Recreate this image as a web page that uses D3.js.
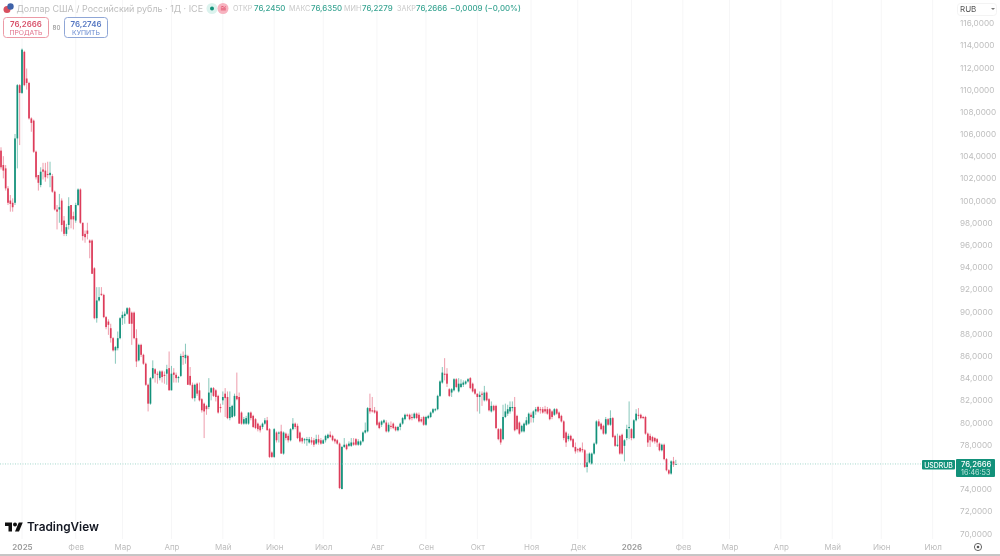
<!DOCTYPE html>
<html>
<head>
<meta charset="utf-8">
<script src="https://cdn.jsdelivr.net/npm/d3@7"></script>
<style>
  body { margin: 0; background: #fff; }
  svg { filter: blur(0.3px); }
  text { font-family: Inter, "Noto Sans", sans-serif; }
</style>
</head>
<body>
<svg id="chart" width="1000" height="556"></svg>
<script>
// daily USD/RUB candles, ten per row
var opens = [
  104.5,103.2,102.9,101.1,100.0,99.8,99.8,105.6,110.4,109.7,
  113.4,111.0,110.6,107.4,107.2,104.4,102.3,101.4,102.8,102.7,
  102.4,102.3,102.2,100.8,99.2,99.2,100.0,98.2,97.0,97.8,
  99.6,98.6,98.2,99.6,101.0,98.0,97.0,97.3,96.4,96.4,
  93.9,89.4,91.0,91.6,91.5,89.5,89.1,88.5,87.6,86.5,
  86.7,87.6,89.4,89.6,89.8,90.3,89.9,89.9,87.6,85.6,
  87.0,86.1,85.3,83.4,81.7,84.0,84.8,84.4,84.0,84.6,
  84.3,84.4,84.9,82.9,84.5,84.3,84.0,84.2,86.0,85.8,
  86.0,84.2,83.4,82.2,83.5,82.9,82.1,81.7,81.5,81.4,
  82.7,83.1,82.9,82.4,81.4,82.0,82.6,82.3,80.4,80.5,
  80.6,82.4,82.3,80.9,79.9,79.9,79.9,80.9,80.6,80.3,
  79.9,79.7,79.6,79.9,80.2,79.4,77.3,76.9,79.1,79.0,
  79.2,77.2,79.0,78.8,78.4,79.4,79.9,79.7,79.1,78.6,
  78.4,78.4,78.2,78.4,78.4,78.1,78.5,78.4,78.1,78.4,
  78.6,78.9,78.8,78.5,78.4,78.1,74.0,77.8,78.0,77.9,
  77.9,78.2,78.5,78.0,78.0,78.3,79.1,79.2,81.3,81.1,
  81.1,81.0,80.0,79.8,80.0,80.0,79.2,79.7,79.9,79.6,
  79.3,79.6,79.9,80.3,80.7,80.7,80.5,80.4,80.8,80.7,
  80.3,80.5,79.8,80.4,80.5,80.9,81.1,81.2,82.4,83.6,
  84.4,84.4,83.0,82.7,82.9,83.9,82.8,83.2,83.4,83.5,
  83.7,84.0,83.5,83.0,82.6,82.3,82.6,82.0,82.7,82.1,
  81.0,81.5,81.5,79.4,79.4,78.5,80.5,80.8,81.0,81.3,
  81.4,80.6,80.0,79.2,79.2,79.8,79.9,80.7,80.4,81.0,
  81.4,81.2,81.2,81.2,81.2,81.2,81.0,80.7,81.2,80.9,
  80.6,80.1,79.1,78.5,78.8,78.5,77.8,77.6,77.7,77.6,
  77.5,76.0,76.4,76.3,77.2,78.1,80.1,79.9,79.7,79.0,
  80.3,79.8,80.4,78.8,77.9,78.8,78.9,77.9,78.6,79.5,
  79.4,78.6,80.2,80.7,80.7,80.5,80.5,79.0,78.8,78.7,
  78.6,78.5,78.1,77.5,78.0,76.7,75.7,75.4,76.5,76.245
];
var highs = [
  104.8,104.0,103.2,101.3,100.5,100.2,106.0,110.5,110.5,113.7,
  113.5,111.9,110.7,107.5,107.3,104.5,102.3,103.0,103.4,103.4,
  103.5,103.5,102.4,100.9,99.6,100.6,100.2,98.6,97.9,100.3,
  99.6,99.0,99.8,101.1,101.1,98.0,97.3,98.0,96.5,96.5,
  94.0,92.2,92.2,92.2,91.6,89.6,89.3,88.9,87.7,86.9,
  88.2,89.5,90.0,90.0,90.4,90.4,90.0,90.0,88.4,87.1,
  87.1,86.2,85.4,83.5,84.1,85.6,84.9,84.6,84.7,84.7,
  84.6,85.2,86.4,85.1,84.9,84.5,84.2,86.2,86.4,87.1,
  86.1,85.0,83.6,83.5,83.6,83.6,82.2,81.8,81.6,84.0,
  83.2,83.2,83.0,82.5,81.7,82.8,83.1,82.8,82.8,81.6,
  82.6,84.5,82.7,81.0,80.5,80.6,80.9,81.0,80.7,80.4,
  80.0,79.8,80.0,80.4,80.5,79.5,77.4,79.5,79.2,79.2,
  79.8,79.2,79.1,79.0,79.5,80.4,80.0,79.9,79.2,78.7,
  78.6,78.7,78.7,78.7,78.6,78.9,78.9,78.6,78.5,78.9,
  79.0,79.2,78.9,78.6,78.5,78.2,77.9,78.6,78.1,78.3,
  78.6,78.6,78.6,78.5,78.4,79.2,80.0,81.4,82.6,82.3,
  81.4,81.1,80.1,80.2,80.3,80.2,80.0,80.1,80.0,79.7,
  79.7,80.0,80.5,80.8,80.8,80.8,80.8,80.9,80.9,80.9,
  80.5,80.6,80.6,80.7,81.0,81.3,81.3,82.5,83.8,85.0,
  85.8,84.9,83.1,83.1,84.0,84.0,84.0,83.9,83.8,83.8,
  84.0,84.1,83.6,83.1,82.6,82.8,82.8,83.3,82.8,82.2,
  81.9,81.6,81.6,79.5,79.5,81.6,81.7,81.6,81.9,81.9,
  82.3,80.7,80.1,79.8,80.0,80.5,80.9,80.9,81.1,81.4,
  81.5,81.4,81.4,81.5,81.4,81.3,81.1,81.3,81.3,81.0,
  80.7,80.2,79.2,79.0,78.9,78.6,78.2,77.7,77.8,78.2,
  77.6,77.2,77.3,77.3,78.2,80.2,80.3,80.0,79.8,80.5,
  80.4,81.1,80.5,78.9,79.0,78.9,79.0,78.5,79.8,81.9,
  79.5,80.3,81.2,81.3,80.8,80.6,80.6,79.1,79.0,78.8,
  78.7,78.6,78.2,78.1,78.1,76.8,75.8,76.6,76.9,76.635
];
var lows = [
  102.8,102.0,100.9,99.6,99.0,99.0,99.6,102.9,105.0,109.6,
  110.3,110.0,107.3,106.2,104.3,101.9,100.9,101.2,101.9,101.7,
  102.0,101.2,100.7,99.1,97.4,98.0,97.2,96.8,96.8,97.4,
  97.5,97.4,98.0,99.5,97.9,96.4,96.2,96.5,94.8,93.4,
  89.3,89.0,90.9,91.4,89.4,88.4,87.9,87.2,86.4,85.3,
  86.5,87.5,88.8,88.9,89.7,88.9,87.0,87.5,85.0,85.5,
  85.9,85.2,83.3,81.0,81.6,83.9,83.6,83.5,83.8,83.6,
  83.5,83.4,82.9,82.9,83.6,83.6,83.6,84.1,85.2,85.3,
  83.4,83.3,82.1,81.9,82.4,81.9,80.9,78.6,80.7,81.2,
  82.0,82.3,81.9,80.8,80.9,81.6,80.5,80.3,80.2,80.4,
  80.5,82.0,79.9,79.8,79.8,79.8,79.8,80.2,79.5,79.4,
  79.2,79.1,79.4,79.8,79.3,76.8,76.8,76.8,78.2,78.2,
  77.2,77.1,78.4,78.2,78.3,79.3,79.4,78.5,78.2,78.1,
  78.1,77.9,78.1,78.0,77.8,78.0,78.0,78.0,78.1,78.2,
  78.5,78.6,78.3,78.1,78.0,74.0,74.0,77.7,77.5,77.8,
  77.8,77.9,77.9,77.9,77.9,78.2,79.0,79.1,80.8,80.9,
  80.8,79.7,79.4,79.6,79.9,79.1,79.1,79.4,79.4,79.2,
  79.2,79.3,79.8,80.2,80.5,80.2,80.2,80.3,80.3,80.0,
  80.0,79.7,79.7,80.3,80.4,80.8,81.0,81.1,82.3,83.5,
  83.8,83.2,82.3,82.3,82.8,83.1,82.7,83.1,83.2,83.4,
  83.6,83.0,82.7,82.5,81.0,80.8,81.5,81.9,81.9,81.0,
  80.9,81.0,79.4,78.4,78.0,78.4,80.4,80.6,80.8,81.0,
  79.2,79.3,78.9,79.1,79.1,79.7,79.8,80.0,80.0,80.7,
  80.9,80.8,80.8,80.8,80.7,80.2,80.3,80.6,80.7,80.3,
  80.0,78.4,77.8,78.3,78.3,77.7,77.2,77.3,77.3,77.3,
  75.9,75.5,76.3,76.2,77.1,78.0,79.6,79.3,78.9,78.9,
  79.7,79.7,78.6,77.8,77.8,77.1,77.1,76.5,78.4,78.5,
  78.4,78.5,80.1,80.3,80.3,80.3,78.9,77.8,77.8,78.2,
  78.1,77.8,77.4,77.4,76.6,75.6,75.3,75.3,76.0,76.2279
];
var closes = [
  103.0,102.7,101.1,99.8,99.7,99.4,105.6,110.4,109.7,113.6,
  110.4,110.6,107.4,107.0,104.4,102.1,101.6,102.6,102.6,102.1,
  102.3,102.5,100.8,99.2,99.0,99.4,97.8,97.0,97.6,99.5,
  98.3,98.3,99.6,101.0,98.0,96.8,96.7,97.0,96.2,93.4,
  89.4,91.0,91.3,91.5,89.5,88.6,88.8,87.6,86.5,86.8,
  87.6,89.4,89.7,89.8,90.3,88.9,88.9,87.6,85.5,87.0,
  86.1,85.3,83.4,81.7,84.0,84.9,84.4,84.3,84.6,84.1,
  84.2,84.8,82.9,84.4,84.3,84.0,84.1,86.0,85.9,86.1,
  83.4,83.4,82.2,83.4,82.6,82.0,81.1,81.0,81.2,82.7,
  83.1,82.4,82.3,80.9,81.3,82.3,82.2,80.4,81.4,81.5,
  82.4,82.1,79.9,79.9,80.3,80.4,80.9,80.4,79.6,79.5,
  79.4,79.3,79.9,80.2,79.3,76.9,76.9,79.4,78.4,79.1,
  77.2,79.1,78.6,78.4,79.4,79.9,79.6,78.6,78.3,78.3,
  78.5,78.5,78.5,78.2,78.0,78.5,78.2,78.1,78.4,78.8,
  78.9,78.7,78.4,78.3,78.1,74.1,77.8,78.0,77.6,78.1,
  78.2,78.0,78.0,78.3,78.3,79.1,79.3,81.3,81.0,81.0,
  80.9,79.8,79.5,80.1,80.2,79.2,79.8,79.6,79.5,79.3,
  79.6,79.9,80.4,80.7,80.6,80.3,80.4,80.8,80.4,80.1,
  80.1,79.8,80.5,80.6,80.9,81.2,81.2,82.4,83.7,84.5,
  84.3,83.5,82.4,83.0,83.9,83.2,83.5,83.5,83.6,83.7,
  83.9,83.1,82.8,82.6,82.3,82.5,82.5,82.7,82.0,81.1,
  81.5,81.1,79.5,78.5,78.2,80.5,81.0,81.2,81.4,81.4,
  79.3,79.4,79.0,79.7,79.9,80.2,80.8,80.5,81.0,81.2,
  81.0,81.1,80.9,81.0,80.8,80.3,80.5,81.2,80.8,80.4,
  80.1,78.6,78.2,78.8,78.4,77.8,77.4,77.5,77.4,77.5,
  76.0,76.4,77.2,77.2,78.1,80.1,79.7,79.4,79.0,80.3,
  79.8,80.4,78.7,77.9,78.0,77.2,77.2,78.4,79.4,79.6,
  78.6,80.2,80.8,80.6,80.4,80.4,79.0,78.2,78.4,78.3,
  78.3,78.2,77.5,78.0,76.7,75.7,75.4,76.5,76.2,76.2666
];

// month labels and the bar index they sit on
var monthLabels = ["2025","Фев","Мар","Апр","Май","Июн","Июл","Авг","Сен","Окт","Ноя","Дек","2026","Фев","Мар","Апр","Май","Июн","Июл"];
var monthBars = [9,32,52,73,95,117,138,161,182,204,227,247,270,292,312,334,356,377,399];
var priceTicks = [116,114,112,110,108,106,104,102,100,98,96,94,92,90,88,86,84,82,80,78,74,72,70];
var lastPrice = 76.2666;

var UP = "#12917a", DOWN = "#dd3c5a", GREY = "#bdbdbd";
var fmt = d => d.toFixed(4).replace(".", ",");

var svg = d3.select("#chart");
var x = d3.scaleLinear().domain([0, 400]).range([1, 935]);
var y = d3.scaleLinear().domain([70, 116]).range([533.5, 23]);

// vertical grid
svg.append("g").selectAll("line")
  .data(monthBars)
  .enter().append("line")
  .attr("x1", d => x(d)).attr("x2", d => x(d))
  .attr("y1", 0).attr("y2", 539)
  .attr("stroke", "#f6f6f7");

// candles
var bars = svg.append("g");
closes.forEach(function (c, i) {
  var col = c >= opens[i] ? UP : DOWN;
  bars.append("line")
    .attr("x1", x(i)).attr("x2", x(i))
    .attr("y1", y(highs[i])).attr("y2", y(lows[i]))
    .attr("stroke", col).attr("stroke-opacity", 0.5).attr("stroke-width", 1);
  bars.append("rect")
    .attr("x", x(i) - 0.85).attr("width", 1.7)
    .attr("y", y(Math.max(opens[i], c)))
    .attr("height", Math.max(1, Math.abs(y(opens[i]) - y(c))))
    .attr("fill", col);
});

// last price line
svg.append("line")
  .attr("x1", 0).attr("x2", 922)
  .attr("y1", y(lastPrice)).attr("y2", y(lastPrice))
  .attr("stroke", "#a5d8cd").attr("stroke-dasharray", "1 1.5");

// price axis
var yAxis = svg.append("g")
  .attr("transform", "translate(960,0)")
  .call(d3.axisRight(y).tickValues(priceTicks).tickFormat(fmt).tickSize(0));
yAxis.select(".domain").remove();
yAxis.selectAll("text")
  .attr("x", 0).attr("fill", GREY)
  .style("font-size", "8.2px").style("font-family", "Inter");

// time axis
var xAxis = svg.append("g")
  .attr("transform", "translate(0,544)")
  .call(d3.axisBottom(x).tickValues(monthBars).tickFormat((d, i) => monthLabels[i]).tickSize(0));
xAxis.select(".domain").remove();
xAxis.selectAll("text")
  .attr("y", 0).attr("dy", "0.71em")
  .attr("fill", (d, i) => /^20/.test(monthLabels[i]) ? "#9a9a9a" : GREY)
  .style("font-size", "8px").style("font-family", "Inter")
  .style("font-weight", (d, i) => /^20/.test(monthLabels[i]) ? 600 : 400);

svg.append("line").attr("x1", 0).attr("x2", 1000).attr("y1", 555).attr("y2", 555).attr("stroke", "#8c8c8c");

function label(txt, px, py, size, fill, weight, anchor) {
  return svg.append("text").text(txt).attr("x", px).attr("y", py)
    .attr("font-size", size).attr("fill", fill)
    .attr("font-weight", weight || 400).attr("text-anchor", anchor || "start");
}

// header
svg.append("circle").attr("cx", 7).attr("cy", 9.5).attr("r", 3.5).attr("fill", "#d8505f");
svg.append("circle").attr("cx", 10.5).attr("cy", 6.5).attr("r", 3.2).attr("fill", "#3f62a8");
label("Доллар США / Российский рубль · 1Д · ICE", 16.5, 11.5, 8.95, GREY);
svg.append("circle").attr("cx", 212).attr("cy", 8.5).attr("r", 5.5).attr("fill", "#dcf3ee");
svg.append("circle").attr("cx", 212).attr("cy", 8.5).attr("r", 2).attr("fill", UP);
svg.append("circle").attr("cx", 223).attr("cy", 8.5).attr("r", 5.5).attr("fill", "#f7b3c0");
label("≅", 223, 11, 8, DOWN, 400, "middle");

var ohlcNames = ["ОТКР", "МАКС", "МИН", "ЗАКР"];
var ohlcValues = ["76,2450", "76,6350", "76,2279", "76,2666"];
var ohlcNameX = [233, 289, 344, 397];
var ohlcValueX = [254, 311, 362, 416];
ohlcNames.forEach(function (n, i) {
  label(n, ohlcNameX[i], 11, 7.2, "#c8c8c8");
  label(ohlcValues[i], ohlcValueX[i], 11, 7.9, "#3aa593", 500);
});
label("−0,0009 (−0,00%)", 450, 11, 7.9, "#3aa593", 500);

// sell and buy buttons
svg.append("rect").attr("x", 3.5).attr("y", 17.5).attr("width", 45).attr("height", 20).attr("rx", 3)
  .attr("fill", "#fff").attr("stroke", "#ec9aa6");
label("76,2666", 26, 26.5, 7.9, "#d8516a", 600, "middle");
label("ПРОДАТЬ", 26, 34.5, 6.8, "#e0708a", 400, "middle");
label("80", 56.5, 30, 6.3, "#888", 400, "middle");
svg.append("rect").attr("x", 64.5).attr("y", 17.5).attr("width", 43).attr("height", 20).attr("rx", 3)
  .attr("fill", "#fff").attr("stroke", "#8fa6d6");
label("76,2746", 86, 26.5, 7.9, "#5577c2", 600, "middle");
label("КУПИТЬ", 86, 34.5, 6.8, "#6a8bd0", 400, "middle");

// currency selector
svg.append("rect").attr("x", 957.5).attr("y", 3.5).attr("width", 39).attr("height", 12).attr("rx", 3)
  .attr("fill", "#fff").attr("stroke", "#f3f3f3");
label("RUB", 960, 12, 8, "#555");
svg.append("path").attr("d", "M991 8 l4 0 l-2 2 z").attr("fill", "#777");

// last price labels
svg.append("rect").attr("x", 922).attr("y", 460).attr("width", 33).attr("height", 9.5).attr("rx", 1).attr("fill", UP);
label("USDRUB", 938.5, 467.7, 6.9, "#fff", 500, "middle");
svg.append("rect").attr("x", 956).attr("y", 459).attr("width", 39).attr("height", 18).attr("rx", 1).attr("fill", UP);
label("76,2666", 961, 467, 7.7, "#fff", 500);
label("16:46:53", 961, 475, 7.2, "#c6e8e1");

// TradingView logo
var logo = svg.append("g").attr("transform", "translate(5,520.5) scale(0.5)").attr("fill", "#111");
logo.append("path").attr("d", "M14 22H7V11H0V4h14v18zM28 22h-8l7.5-18h8L28 22z");
logo.append("circle").attr("cx", 20).attr("cy", 8).attr("r", 4);
label("TradingView", 27, 531, 11.8, "#131722", 600);

// settings icon
svg.append("circle").attr("cx", 978).attr("cy", 547).attr("r", 3.6).attr("fill", "none").attr("stroke", "#555").attr("stroke-width", 0.9);
svg.append("circle").attr("cx", 978).attr("cy", 547).attr("r", 1.3).attr("fill", "#555");
</script>
</body>
</html>
